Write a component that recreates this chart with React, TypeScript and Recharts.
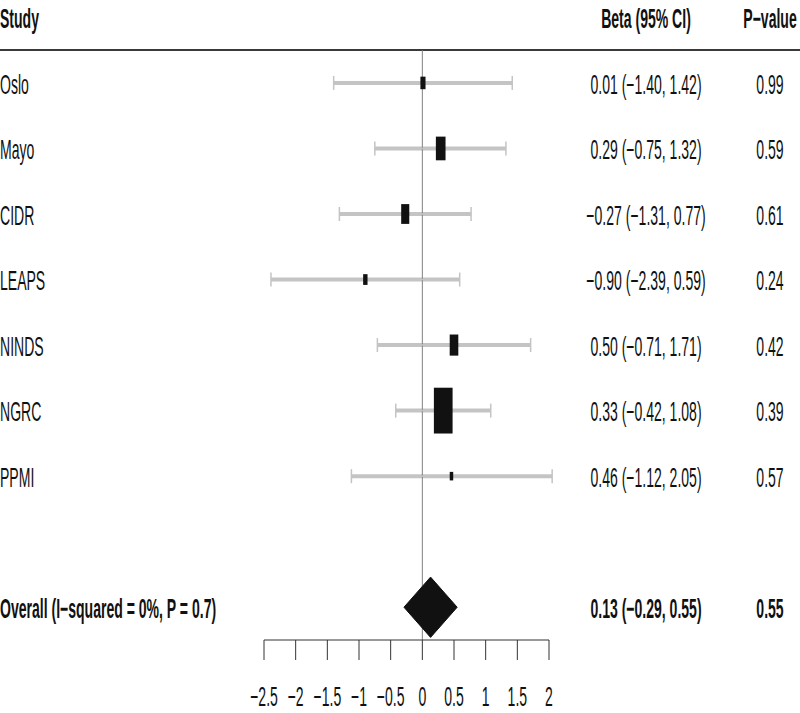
import React from 'react';
import { ScatterChart, Scatter, XAxis, YAxis, ErrorBar, ReferenceLine } from 'recharts';

const studies = ['Oslo', 'Mayo', 'CIDR', 'LEAPS', 'NINDS', 'NGRC', 'PPMI'];
const beta = [0.01, 0.29, -0.27, -0.9, 0.5, 0.33, 0.46];
const lower = [-1.4, -0.75, -1.31, -2.39, -0.71, -0.42, -1.12];
const upper = [1.42, 1.32, 0.77, 0.59, 1.71, 1.08, 2.05];
const pValues = [0.99, 0.59, 0.61, 0.24, 0.42, 0.39, 0.57];
// relative weight
const weights = [4.1, 14.6, 10.2, 3.0, 11.6, 54.6, 1.9];

const overallLabel = 'Overall (I\u2212squared = 0%, P = 0.7)';
const overallBeta = 0.13;
const overallLower = -0.29;
const overallUpper = 0.55;
const overallP = 0.55;

const xTicks = [-2.5, -2, -1.5, -1, -0.5, 0, 0.5, 1, 1.5, 2];
const HEADER_ROW = -1;
const OVERALL_ROW = 8;
const rowTicks = [HEADER_ROW, 0, 1, 2, 3, 4, 5, 6, OVERALL_ROW];

// the reference text is tall and narrow: squeeze Liberation Sans horizontally
const FONT = '"Liberation Sans", Arial, sans-serif';
const FONT_SIZE = 27;
const SQUEEZE = 0.52;
const minus = (s: string) => s.replace(/-/g, '\u2212');
const fmt = (v: number) => minus(v.toFixed(2));

const studyData = studies.map((s, i) => ({
  x: beta[i],
  y: i,
  err: [beta[i] - lower[i], upper[i] - beta[i]],
  w: weights[i],
}));

const diamondData = [
  { x: overallLower, y: OVERALL_ROW },
  { x: overallBeta, y: OVERALL_ROW - 0.46 },
  { x: overallUpper, y: OVERALL_ROW },
  { x: overallBeta, y: OVERALL_ROW + 0.46 },
  { x: overallLower, y: OVERALL_ROW },
];

const Narrow = ({ x, y, anchor, bold, dy, children }: any) => (
  <text
    transform={`translate(${x},${y}) scale(${SQUEEZE},1)`}
    dy={dy || '0.4em'}
    textAnchor={anchor || 'start'}
    fontSize={FONT_SIZE}
    fontFamily={FONT}
    fontWeight={bold ? 700 : 400}
    fill="#111"
  >
    {children}
  </text>
);

const LeftTick = (props: any) => {
  const v = props.payload.value;
  let label = '';
  if (v === HEADER_ROW) label = 'Study';
  else if (v === OVERALL_ROW) label = overallLabel;
  else label = studies[v];
  const bold = v === HEADER_ROW || v === OVERALL_ROW;
  return <Narrow x={0} y={props.y} bold={bold}>{label}</Narrow>;
};

const RightTick = (props: any) => {
  const v = props.payload.value;
  let ci = '';
  let p = '';
  if (v === HEADER_ROW) {
    ci = 'Beta (95% CI)';
    p = 'P\u2212value';
  } else if (v === OVERALL_ROW) {
    ci = `${fmt(overallBeta)} (${fmt(overallLower)}, ${fmt(overallUpper)})`;
    p = overallP.toFixed(2);
  } else {
    ci = `${fmt(beta[v])} (${fmt(lower[v])}, ${fmt(upper[v])})`;
    p = pValues[v].toFixed(2);
  }
  const bold = v === HEADER_ROW || v === OVERALL_ROW;
  return (
    <g>
      <Narrow x={646} y={props.y} anchor="middle" bold={bold}>{ci}</Narrow>
      <Narrow x={770} y={props.y} anchor="middle" bold={bold}>{p}</Narrow>
    </g>
  );
};

const XTick = (props: any) => (
  <Narrow x={props.x} y={props.y} anchor="middle" dy="0.71em">
    {minus(String(props.payload.value))}
  </Narrow>
);

const Box = (props: any) => {
  const { cx, cy, payload } = props;
  const bw = 2.53 * Math.sqrt(payload.w);
  const bh = bw * 2.45;
  return <rect x={cx - bw / 2} y={cy - bh / 2} width={bw} height={bh} fill="#111" />;
};

const App: React.FC = () => {
  return (
    <div style={{ position: 'absolute', left: 0, top: 0, width: 800, height: 713, background: 'white' }}>
      <div style={{ position: 'absolute', left: 0, top: 49, width: 800, height: 2, background: '#3a3a3a' }} />
      <ScatterChart width={800} height={713} margin={{ top: 1, right: 0, bottom: 0, left: 0 }}>
        <XAxis
          type="number"
          dataKey="x"
          domain={[-2.5, 2]}
          ticks={xTicks}
          interval={0}
          allowDataOverflow
          height={73}
          tickSize={20}
          tickMargin={27}
          tick={<XTick />}
          axisLine={{ stroke: '#333' }}
          tickLine={{ stroke: '#333' }}
        />
        <YAxis
          type="number"
          dataKey="y"
          domain={[-1.25, 8.5]}
          reversed
          allowDataOverflow
          ticks={rowTicks}
          interval={0}
          width={264}
          axisLine={false}
          tickLine={false}
          tick={<LeftTick />}
        />
        <YAxis
          yAxisId="right"
          orientation="right"
          type="number"
          dataKey="y"
          domain={[-1.25, 8.5]}
          reversed
          allowDataOverflow
          ticks={rowTicks}
          interval={0}
          width={251}
          axisLine={false}
          tickLine={false}
          tick={<RightTick />}
        />
        {studies.map((s, i) => (
          <ReferenceLine
            key={s}
            segment={[{ x: lower[i], y: i }, { x: upper[i], y: i }]}
            ifOverflow="visible"
            stroke="#c4c4c4"
            strokeWidth={4}
          />
        ))}
        <ReferenceLine segment={[{ x: 0, y: -0.5 }, { x: 0, y: 8.5 }]} stroke="#808080" strokeWidth={1} />
        <Scatter data={studyData} shape={<Box />} isAnimationActive={false}>
          <ErrorBar dataKey="err" direction="x" width={7} stroke="#c4c4c4" strokeWidth={1.5} />
        </Scatter>
        <Scatter
          data={diamondData}
          line={{ fill: '#111', stroke: '#111', strokeWidth: 1 }}
          lineType="joint"
          shape={() => <g />}
          isAnimationActive={false}
        />
      </ScatterChart>
    </div>
  );
};

export default App;
